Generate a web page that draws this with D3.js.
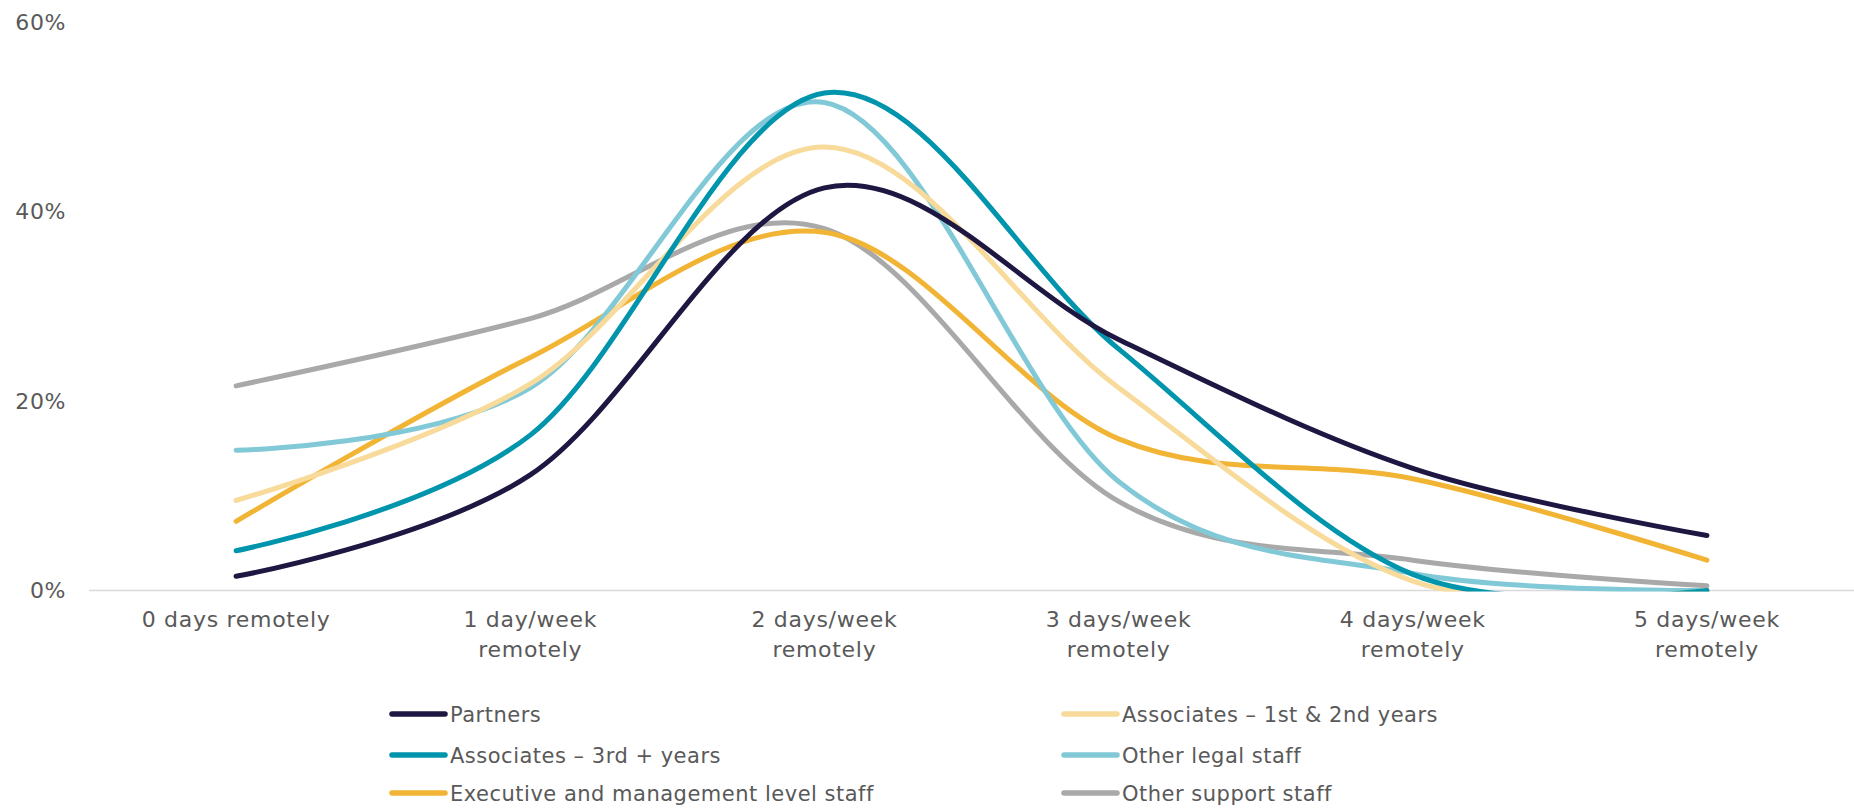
<!DOCTYPE html>
<html>
<head>
<meta charset="utf-8">
<script src="https://cdn.jsdelivr.net/npm/d3@7"></script>
<style>
  html, body { margin: 0; padding: 0; background: #ffffff; }
  svg text { font-family: "DejaVu Sans", sans-serif; fill: #595959; }
</style>
</head>
<body>
<svg id="chart" width="1854" height="809"></svg>
<script>
// Share of staff by number of remote working days per week
const categories = [
  ["0 days remotely"],
  ["1 day/week", "remotely"],
  ["2 days/week", "remotely"],
  ["3 days/week", "remotely"],
  ["4 days/week", "remotely"],
  ["5 days/week", "remotely"]
];
const partners        = [1.5, 12.2, 42.5, 26.5, 12.9, 5.8];
const associatesEarly = [9.5, 21.8, 46.8, 21.4, 1.0, 0.0];
const associatesLate  = [4.2, 16.4, 52.5, 25.5, 1.7, 0.0];
const otherLegal      = [14.8, 21.4, 51.5, 11.5, 1.8, 0.0];
const executive       = [7.3, 24.6, 37.8, 16.0, 11.8, 3.2];
const otherSupport    = [21.6, 28.7, 38.2, 9.4, 3.2, 0.5];
const yTicks = [0, 20, 40, 60];

const seriesNames  = ["Partners", "Associates \u2013 1st & 2nd years", "Associates \u2013 3rd + years",
                      "Other legal staff", "Executive and management level staff", "Other support staff"];
const seriesValues = [partners, associatesEarly, associatesLate, otherLegal, executive, otherSupport];
const seriesColors = ["#1d1742", "#f8da9b", "#0095ad", "#82c9d7", "#f1b434", "#a9a9a9"];

const series = seriesNames.map((name, i) => ({ name, values: seriesValues[i], color: seriesColors[i] }));

const svg = d3.select("#chart");
const plot = { left: 89, right: 1854, top: 22, bottom: 590.5 };

const x = d3.scalePoint()
  .domain(d3.range(categories.length))
  .range([plot.left, plot.right])
  .padding(0.5);

const y = d3.scaleLinear()
  .domain([0, 60])
  .range([plot.bottom, plot.top]);

// y-axis labels
svg.append("g")
  .selectAll("text")
  .data(yTicks)
  .join("text")
  .attr("x", 66)
  .attr("y", d => y(d))
  .attr("dy", "0.36em")
  .attr("text-anchor", "end")
  .style("font-size", "22px")
  .style("letter-spacing", "0.6px")
  .text(d => d + "%");

// baseline
svg.append("line")
  .attr("x1", plot.left).attr("x2", plot.right)
  .attr("y1", y(0)).attr("y2", y(0))
  .attr("stroke", "#d9d9d9").attr("stroke-width", 1.5);

// category labels
const catG = svg.append("g");
categories.forEach((lines, i) => {
  const t = catG.append("text")
    .attr("text-anchor", "middle")
    .style("font-size", "22px")
    .style("letter-spacing", "0.7px");
  lines.forEach((ln, j) => {
    t.append("tspan")
      .attr("x", x(i))
      .attr("y", 619.5 + j * 29.5)
      .attr("dy", "0.36em")
      .text(ln);
  });
});

// lines, clipped to the plot area
svg.append("clipPath").attr("id", "plot-clip")
  .append("rect")
  .attr("x", 0).attr("y", 0)
  .attr("width", 1854).attr("height", plot.bottom + 1);

const line = d3.line()
  .x((d, i) => x(i))
  .y(d => y(d))
  .curve(d3.curveCatmullRom.alpha(0));

const drawOrder = [5, 4, 3, 1, 2, 0];
svg.append("g")
  .attr("clip-path", "url(#plot-clip)")
  .selectAll("path")
  .data(drawOrder.map(i => series[i]))
  .join("path")
  .attr("d", d => line(d.values))
  .attr("fill", "none")
  .attr("stroke", d => d.color)
  .attr("stroke-width", 5)
  .attr("stroke-linecap", "round")
  .attr("stroke-linejoin", "round");

// legend
const legendCols = [392, 1064];
const legendRows = [714, 755, 793];
const legend = svg.append("g")
  .selectAll("g")
  .data(series)
  .join("g")
  .attr("transform", (d, i) => `translate(${legendCols[i % 2]},${legendRows[Math.floor(i / 2)]})`);

legend.append("line")
  .attr("x1", 0).attr("x2", 53)
  .attr("y1", 0).attr("y2", 0)
  .attr("stroke", d => d.color)
  .attr("stroke-width", 5.5)
  .attr("stroke-linecap", "round");

legend.append("text")
  .attr("x", 58)
  .attr("y", 0)
  .attr("dy", "0.36em")
  .style("font-size", "21px")
  .style("letter-spacing", "0.5px")
  .text(d => d.name);
</script>
</body>
</html>
